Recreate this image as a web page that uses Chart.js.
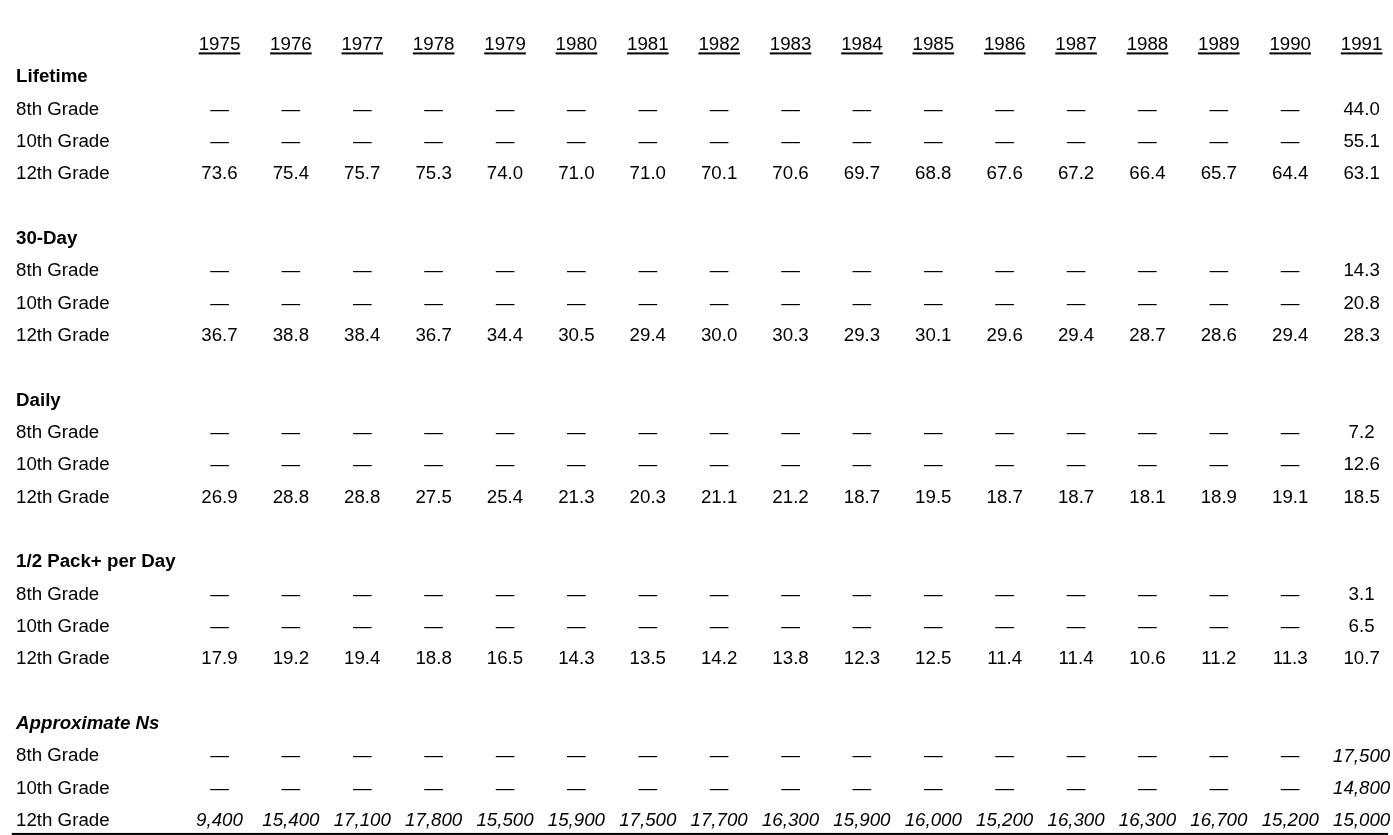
<!DOCTYPE html>
<html>
<head>
<meta charset="utf-8">
<script src="https://cdn.jsdelivr.net/npm/chart.js@4/dist/chart.umd.min.js"></script>
<style>
  html, body { margin: 0; padding: 0; background: #ffffff; }
  #wrap { width: 1393px; height: 835px; }
</style>
</head>
<body>
<div id="wrap"><canvas id="c" width="1393" height="835"></canvas></div>
<script>
// ---------- DATA ----------
const years = ["1975","1976","1977","1978","1979","1980","1981","1982","1983","1984","1985","1986","1987","1988","1989","1990","1991"];

const sections = ["Lifetime", "30-Day", "Daily", "1/2 Pack+ per Day", "Approximate Ns"];
const gradeLabels = ["8th Grade", "10th Grade", "12th Grade"];

const lifetime8  = [null,null,null,null,null,null,null,null,null,null,null,null,null,null,null,null,44.0];
const lifetime10 = [null,null,null,null,null,null,null,null,null,null,null,null,null,null,null,null,55.1];
const lifetime12 = [73.6,75.4,75.7,75.3,74.0,71.0,71.0,70.1,70.6,69.7,68.8,67.6,67.2,66.4,65.7,64.4,63.1];

const day30_8  = [null,null,null,null,null,null,null,null,null,null,null,null,null,null,null,null,14.3];
const day30_10 = [null,null,null,null,null,null,null,null,null,null,null,null,null,null,null,null,20.8];
const day30_12 = [36.7,38.8,38.4,36.7,34.4,30.5,29.4,30.0,30.3,29.3,30.1,29.6,29.4,28.7,28.6,29.4,28.3];

const daily8  = [null,null,null,null,null,null,null,null,null,null,null,null,null,null,null,null,7.2];
const daily10 = [null,null,null,null,null,null,null,null,null,null,null,null,null,null,null,null,12.6];
const daily12 = [26.9,28.8,28.8,27.5,25.4,21.3,20.3,21.1,21.2,18.7,19.5,18.7,18.7,18.1,18.9,19.1,18.5];

const halfPack8  = [null,null,null,null,null,null,null,null,null,null,null,null,null,null,null,null,3.1];
const halfPack10 = [null,null,null,null,null,null,null,null,null,null,null,null,null,null,null,null,6.5];
const halfPack12 = [17.9,19.2,19.4,18.8,16.5,14.3,13.5,14.2,13.8,12.3,12.5,11.4,11.4,10.6,11.2,11.3,10.7];

const ns8  = [null,null,null,null,null,null,null,null,null,null,null,null,null,null,null,null,17500];
const ns10 = [null,null,null,null,null,null,null,null,null,null,null,null,null,null,null,null,14800];
const ns12 = [9400,15400,17100,17800,15500,15900,17500,17700,16300,15900,16000,15200,16300,16300,16700,15200,15000];

const sectionData = [
  [lifetime8, lifetime10, lifetime12],
  [day30_8, day30_10, day30_12],
  [daily8, daily10, daily12],
  [halfPack8, halfPack10, halfPack12],
  [ns8, ns10, ns12]
];

// ---------- BUILD ----------
const FONT = '"Liberation Sans", Arial, Helvetica, sans-serif';
const FS = 18.7;

// rows: 0 = header, then for each section: title, 3 grades, blank
const rowLabels = [];   // {row, text, style}
const datasets = [];
let row = 1;
sections.forEach((sec, si) => {
  const italicSec = si === 4;
  rowLabels.push({ row: row, text: sec, weight: 'bold', style: italicSec ? 'italic' : 'normal' });
  row++;
  gradeLabels.forEach((g, gi) => {
    rowLabels.push({ row: row, text: g, weight: 'normal', style: 'normal' });
    const vals = sectionData[si][gi];
    datasets.push({
      label: sec + ' ' + g,
      data: vals.map((v, i) => ({ x: i, y: row, v: v })),
      italic: italicSec,
      isN: italicSec,
      pointRadius: 0,
      showLine: false
    });
    row++;
  });
  row++; // blank
});

const LABEL_X = -2.85;
const RULE_Y = 24.4;
const RULE_X0 = -2.91, RULE_X1 = 16.37;

const tablePlugin = {
  id: 'tableText',
  afterDatasetsDraw(chart) {
    const ctx = chart.ctx;
    const xs = chart.scales.x, ys = chart.scales.y;
    ctx.save();
    ctx.fillStyle = '#000';
    ctx.strokeStyle = '#000';
    ctx.textBaseline = 'middle';

    // header years, underlined
    ctx.font = `normal ${FS}px ${FONT}`;
    ctx.textAlign = 'center';
    years.forEach((yr, i) => {
      const px = xs.getPixelForValue(i);
      const py = ys.getPixelForValue(0);
      ctx.fillText(yr, px, py);
      const w = ctx.measureText(yr).width;
      const uy = ys.getPixelForValue(0.26);
      ctx.fillRect(px - w / 2, uy - 1, w, 2);
    });

    // row labels
    ctx.textAlign = 'left';
    rowLabels.forEach(l => {
      ctx.font = `${l.style} ${l.weight} ${FS}px ${FONT}`;
      ctx.fillText(l.text, xs.getPixelForValue(LABEL_X), ys.getPixelForValue(l.row));
    });

    // cell values
    ctx.textAlign = 'center';
    chart.data.datasets.forEach((ds, di) => {
      const meta = chart.getDatasetMeta(di);
      meta.data.forEach((el, i) => {
        const v = ds.data[i].v;
        let txt;
        if (v === null) {
          txt = '\u2014';
          ctx.font = `normal ${FS}px ${FONT}`;
        } else if (ds.isN) {
          txt = v.toLocaleString('en-US');
          ctx.font = `italic ${FS}px ${FONT}`;
        } else {
          txt = v.toFixed(1);
          ctx.font = `normal ${FS}px ${FONT}`;
        }
        ctx.fillText(txt, el.x, el.y);
      });
    });

    // bottom rule
    const ry = ys.getPixelForValue(RULE_Y);
    const rx0 = xs.getPixelForValue(RULE_X0), rx1 = xs.getPixelForValue(RULE_X1);
    ctx.fillRect(rx0, ry - 1, rx1 - rx0, 2);
    ctx.restore();
  }
};

new Chart(document.getElementById('c'), {
  type: 'scatter',
  data: { datasets: datasets },
  options: {
    responsive: false,
    animation: false,
    layout: { padding: 0 },
    plugins: { legend: { display: false }, tooltip: { enabled: false }, title: { display: false } },
    scales: {
      x: { type: 'linear', min: -3.075, max: 16.44, display: false },
      y: { type: 'linear', reverse: true, min: -1.392, max: 24.433, display: false }
    }
  },
  plugins: [tablePlugin]
});
</script>
</body>
</html>
